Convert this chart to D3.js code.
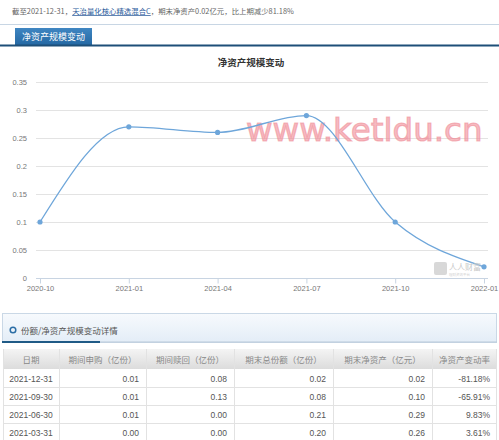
<!DOCTYPE html>
<html><head><meta charset="utf-8">
<script src="https://cdn.jsdelivr.net/npm/d3@7"></script>
<style>
html,body{margin:0;padding:0;background:#fff;}
svg{display:block;}
</style></head>
<body>
<svg id="c" width="499" height="440"></svg>
<script>
const categories = ["2020-10","2021-01","2021-04","2021-07","2021-10","2022-01"];
const netAssets = [0.10, 0.27, 0.26, 0.29, 0.10, 0.02];
const yTicks = [0, 0.05, 0.1, 0.15, 0.2, 0.25, 0.3, 0.35];
const tableHeaders = ["日期","期间申购（亿份）","期间赎回（亿份）","期末总份额（亿份）","期末净资产（亿元）","净资产变动率"];
const tableDates = ["2021-12-31","2021-09-30","2021-06-30","2021-03-31"];
const tableSubscribe = ["0.01","0.01","0.01","0.00"];
const tableRedeem = ["0.08","0.13","0.00","0.00"];
const tableShares = ["0.02","0.08","0.21","0.20"];
const tableNet = ["0.02","0.10","0.29","0.26"];
const tableChange = ["-81.18%","-65.91%","9.83%","3.61%"];

const svg = d3.select("#c");
const cjk = "'Noto Sans CJK SC','Noto Sans',sans-serif";
const sans = "'Liberation Sans',Arial,sans-serif";

const defs = svg.append("defs");
const g1 = defs.append("linearGradient").attr("id","secbg").attr("x1",0).attr("y1",0).attr("x2",0).attr("y2",1);
g1.append("stop").attr("offset","0%").attr("stop-color","#f7fafd");
g1.append("stop").attr("offset","100%").attr("stop-color","#e3edf7");
const g2 = defs.append("linearGradient").attr("id","hdrbg").attr("x1",0).attr("y1",0).attr("x2",0).attr("y2",1);
g2.append("stop").attr("offset","0%").attr("stop-color","#f4f4f4");
g2.append("stop").attr("offset","100%").attr("stop-color","#dcdcdc");
const g3 = defs.append("linearGradient").attr("id","tabbg").attr("x1",0).attr("y1",0).attr("x2",0).attr("y2",1);
g3.append("stop").attr("offset","0%").attr("stop-color","#3f86c2");
g3.append("stop").attr("offset","100%").attr("stop-color","#2468a3");

// top summary text
const summary = svg.append("text").attr("x",12).attr("y",14)
  .attr("font-family",cjk).attr("font-size",7.4).attr("fill","#666");
summary.append("tspan").text("截至2021-12-31，");
summary.append("tspan").text("天治量化核心精选混合C").attr("fill","#2a5a9a").attr("text-decoration","underline");
summary.append("tspan").text("，期末净资产0.02亿元，比上期减少81.18%");

svg.append("line").attr("x1",0).attr("x2",499).attr("y1",24.5).attr("y2",24.5).attr("stroke","#c8d6e4");
svg.append("rect").attr("x",15).attr("y",28).attr("width",77).attr("height",17).attr("fill","url(#tabbg)");
svg.append("text").attr("x",53.5).attr("y",40).attr("text-anchor","middle")
  .attr("font-family",cjk).attr("font-size",9).attr("fill","#fff").text("净资产规模变动");
svg.append("rect").attr("x",0).attr("y",44.5).attr("width",499).attr("height",2).attr("fill","#1d4f78");

// chart
const x = d3.scalePoint().domain(categories).range([40,484]);
const y = d3.scaleLinear().domain([0,0.35]).range([278,82]);

svg.append("text").attr("x",251).attr("y",66).attr("text-anchor","middle")
  .attr("font-family",cjk).attr("font-size",9.5).attr("font-weight","bold").attr("fill","#333").text("净资产规模变动");

const grid = svg.append("g");
grid.selectAll("line").data(yTicks.filter(d=>d>0)).join("line")
  .attr("x1",36).attr("x2",488).attr("y1",d=>Math.round(y(d))+0.5).attr("y2",d=>Math.round(y(d))+0.5)
  .attr("stroke","#e3e3e3");

const yAxis = svg.append("g").attr("transform","translate(36,0)")
  .call(d3.axisLeft(y).tickValues(yTicks).tickSize(0).tickPadding(9).tickFormat(d=>String(+d.toFixed(2))));
yAxis.select(".domain").remove();
yAxis.selectAll("text").attr("font-family",sans).attr("font-size",7.5).attr("fill","#777");

const xAxis = svg.append("g").attr("transform","translate(0,278.5)")
  .call(d3.axisBottom(x).tickSize(5).tickPadding(2));
xAxis.select(".domain").attr("d","M36,0H488").attr("stroke","#c8d4e2");
xAxis.selectAll(".tick line").attr("stroke","#c8d4e2");
xAxis.selectAll("text").attr("font-family",sans).attr("font-size",7.5).attr("fill","#777");

// watermark
svg.append("text").attr("x",246).attr("y",141)
  .attr("font-family","'DejaVu Sans',sans-serif").attr("font-size",32.5)
  .attr("fill","#f08d98").attr("stroke","#f08d98").attr("stroke-width",1.2)
  .attr("fill-opacity",0.6).attr("stroke-opacity",0.6).text("www.ketldu.cn");

const line = d3.line().x((d,i)=>x(categories[i])).y(d=>y(d)).curve(d3.curveMonotoneX);
svg.append("path").datum(netAssets).attr("d",line).attr("fill","none").attr("stroke","#6ea6da").attr("stroke-width",1.3);
svg.selectAll("circle.pt").data(netAssets).join("circle").attr("class","pt")
  .attr("cx",(d,i)=>x(categories[i])).attr("cy",d=>y(d)).attr("r",2.6).attr("fill","#6ea6da");

// small logo
svg.append("rect").attr("x",434).attr("y",262).attr("width",13).attr("height",13).attr("rx",2).attr("fill","#d8d8d8");
svg.append("text").attr("x",449).attr("y",270).attr("font-family",cjk).attr("font-size",8).attr("fill","#c8c8c8").text("人人财富");
svg.append("text").attr("x",449).attr("y",276).attr("font-family",cjk).attr("font-size",3.5).attr("fill","#d0d0d0").text("理财资讯平台");

// section header
svg.append("rect").attr("x",2.5).attr("y",313.5).attr("width",494).attr("height",29).attr("fill","url(#secbg)").attr("stroke","#cad8e6");
svg.append("circle").attr("cx",13).attr("cy",330).attr("r",2.8).attr("fill","none").attr("stroke","#2b6ea6").attr("stroke-width",1.5);
svg.append("text").attr("x",21).attr("y",333.5).attr("font-family",cjk).attr("font-size",8.5).attr("fill","#555").text("份额/净资产规模变动详情");
svg.append("rect").attr("x",2).attr("y",341).attr("width",98).attr("height",2).attr("fill","#1f5a86");
svg.append("rect").attr("x",100).attr("y",341.5).attr("width",397).attr("height",1).attr("fill","#b9c9d9");

// table
const colEdges = [3,59,146,234,333,432,497];
const rowTop = 349, hdrH = 20, rowH = 18;
svg.append("rect").attr("x",3).attr("y",rowTop).attr("width",494).attr("height",hdrH).attr("fill","url(#hdrbg)");
const rows = tableDates.map((d,i)=>[d,tableSubscribe[i],tableRedeem[i],tableShares[i],tableNet[i],tableChange[i]]);
const tb = svg.append("g");
tableHeaders.forEach((h,c)=>{
  tb.append("text").attr("x",(colEdges[c]+colEdges[c+1])/2).attr("y",rowTop+13.5).attr("text-anchor","middle")
    .attr("font-family",cjk).attr("font-size",8.5).attr("fill","#888").text(h);
});
rows.forEach((r,ri)=>{
  const yt = rowTop+hdrH+ri*rowH;
  tb.append("line").attr("x1",3).attr("x2",497).attr("y1",yt+rowH+0.5).attr("y2",yt+rowH+0.5).attr("stroke","#e2e2e2");
  r.forEach((v,c)=>{
    const t = tb.append("text").attr("y",yt+12.5).attr("font-family",sans).attr("font-size",8.5).attr("fill","#555").text(v);
    if(c===0) t.attr("x",(colEdges[0]+colEdges[1])/2).attr("text-anchor","middle");
    else t.attr("x",colEdges[c+1]-7).attr("text-anchor","end");
  });
});
colEdges.slice(1,-1).forEach(e=>{
  tb.append("line").attr("x1",e+0.5).attr("x2",e+0.5).attr("y1",rowTop).attr("y2",440).attr("stroke","#e2e2e2");
});
tb.append("line").attr("x1",3.5).attr("x2",3.5).attr("y1",rowTop).attr("y2",440).attr("stroke","#e2e2e2");
tb.append("line").attr("x1",496.5).attr("x2",496.5).attr("y1",rowTop).attr("y2",440).attr("stroke","#e2e2e2");
</script>
</body></html>
